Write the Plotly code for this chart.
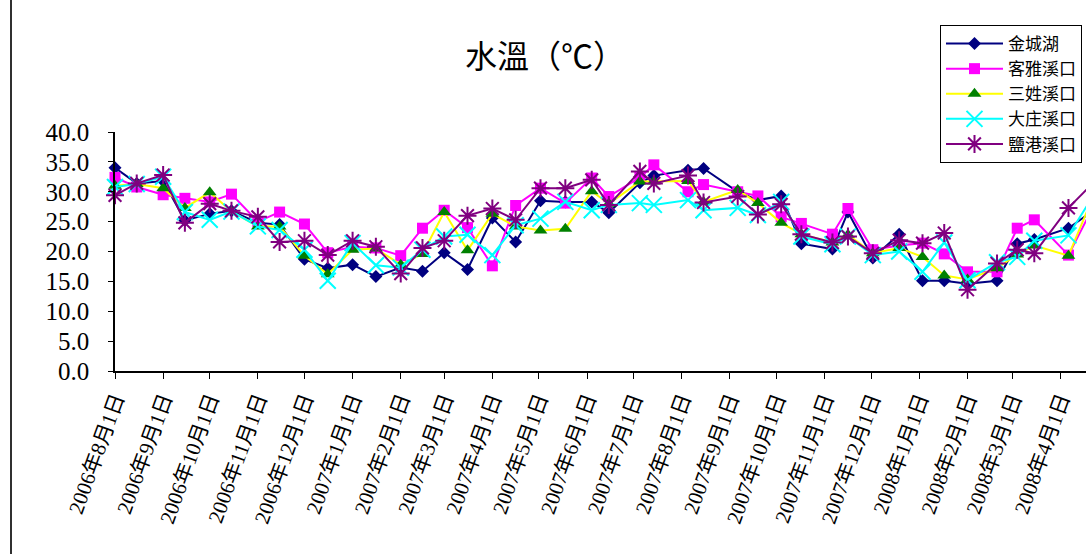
import plotly.graph_objects as go

dates = ["2006-08-01", "2006-08-15", "2006-09-01", "2006-09-15", "2006-10-01", "2006-10-15",
         "2006-11-01", "2006-11-15", "2006-12-01", "2006-12-16", "2007-01-01", "2007-01-16",
         "2007-02-01", "2007-02-15", "2007-03-01", "2007-03-16", "2007-04-01", "2007-04-16",
         "2007-05-02", "2007-05-18", "2007-06-04", "2007-06-15", "2007-07-05", "2007-07-14",
         "2007-08-05", "2007-08-15", "2007-09-06", "2007-09-19", "2007-10-04", "2007-10-17",
         "2007-11-06", "2007-11-16", "2007-12-02", "2007-12-19", "2008-01-03", "2008-01-17",
         "2008-02-01", "2008-02-20", "2008-03-04", "2008-03-15", "2008-04-06", "2008-04-20"]

jinchenghu = [34.0, 31.4, 31.8, 25.2, 26.3, 26.8, 24.8, 24.5, 18.7, 17.2, 17.8, 15.8,
              17.3, 16.7, 19.8, 17.0, 25.6, 21.6, 28.5, 28.3, 28.3, 26.5, 31.5, 32.7,
              33.6, 33.9, 30.0, 28.6, 29.3, 21.3, 20.4, 26.6, 18.9, 22.9, 15.1, 15.1,
              14.6, 15.1, 21.3, 22.0, 23.9, 26.5]
keya = [32.4, 30.8, 29.5, 28.9, 28.3, 29.6, 25.0, 26.6, 24.6, 19.8, 20.8, 20.6,
        19.3, 23.9, 26.9, 24.0, 17.6, 27.7, 30.6, 28.1, 32.3, 29.2, 32.4, 34.5,
        30.0, 31.2, 30.0, 29.3, 25.8, 24.7, 22.9, 27.2, 20.3, 21.0, 21.4, 19.6,
        16.6, 16.6, 23.9, 25.3, 19.4, 26.5]
sanxing = [31.0, 31.3, 30.6, 27.3, 29.9, 26.7, 24.2, 24.2, 19.3, 16.2, 20.3, 20.5,
           17.8, 19.6, 26.6, 20.2, 26.3, 24.2, 23.5, 23.8, 30.1, 28.0, 31.7, 31.7,
           31.8, 28.3, 30.3, 28.1, 24.8, 22.9, 21.5, 22.8, 19.7, 20.6, 19.1, 16.0,
           15.3, 17.2, 19.5, 21.0, 19.3, 28.0]
dazhuang = [30.8, 31.3, 32.5, 26.6, 25.3, 26.7, 24.2, 23.6, 20.3, 15.1, 21.4, 17.7,
            17.3, 20.3, 22.5, 22.8, 19.4, 24.4, 25.5, 28.3, 26.9, 27.8, 28.1, 27.8,
            28.6, 26.9, 27.3, 26.1, 28.3, 22.5, 21.2, 22.5, 19.4, 20.0, 16.6, 21.5,
            15.2, 18.2, 19.1, 21.8, 22.7, 28.5]
yangang = [29.4, 31.4, 32.8, 24.8, 28.0, 26.8, 25.8, 21.6, 21.8, 19.4, 21.8, 20.8,
           16.3, 20.6, 21.8, 26.0, 27.2, 25.3, 30.6, 30.6, 32.0, 27.8, 33.4, 31.4,
           32.7, 28.2, 29.2, 26.2, 27.9, 22.9, 21.5, 22.5, 19.7, 21.9, 21.4, 23.1,
           13.6, 18.0, 20.3, 19.7, 27.3, 31.0]

names = ["金城湖", "客雅溪口", "三姓溪口", "大庄溪口", "鹽港溪口"]
title_text = "水溫（℃）"

SERIF = "Liberation Serif, Noto Sans CJK TC, serif"
CJK = "Noto Sans CJK TC, sans-serif"

fig = go.Figure()
fig.add_trace(go.Scatter(x=dates, y=jinchenghu, name=names[0], mode="lines+markers",
                         line=dict(color="#000080", width=2),
                         marker=dict(symbol="diamond", size=10, color="#000080"),
                         cliponaxis=False))
fig.add_trace(go.Scatter(x=dates, y=keya, name=names[1], mode="lines+markers",
                         line=dict(color="#FF00FF", width=2),
                         marker=dict(symbol="square", size=11, color="#FF00FF"),
                         cliponaxis=False))
fig.add_trace(go.Scatter(x=dates, y=sanxing, name=names[2], mode="lines+markers",
                         line=dict(color="#FFFF00", width=2),
                         marker=dict(symbol="triangle-up", size=12, color="#008000"),
                         cliponaxis=False))
fig.add_trace(go.Scatter(x=dates, y=dazhuang, name=names[3], mode="lines+markers",
                         line=dict(color="#00FFFF", width=2),
                         marker=dict(symbol="x-thin-open", size=16, color="#00FFFF",
                                     line=dict(color="#00FFFF", width=2)),
                         cliponaxis=False))
fig.add_trace(go.Scatter(x=dates, y=yangang, name=names[4], mode="lines+markers",
                         line=dict(color="#800080", width=2),
                         marker=dict(symbol="asterisk-open", size=15, color="#800080",
                                     line=dict(color="#800080", width=2)),
                         cliponaxis=False))

L, T, B = 115, 132, 183
W, H = 1086, 554
pw, ph = W - L, H - T - B

fig.update_layout(
    width=W, height=H,
    margin=dict(l=L, r=0, t=T, b=B),
    paper_bgcolor="white", plot_bgcolor="white",
    title=dict(text=title_text, x=545 / W, xanchor="center", y=1 - 57 / H, yanchor="middle",
               yref="container", xref="container",
               font=dict(family=CJK, size=32, color="black")),
    showlegend=True,
    legend=dict(x=(940 - L) / pw, y=1 + (T - 25) / ph, xanchor="left", yanchor="top",
                bordercolor="black", borderwidth=1, bgcolor="white",
                font=dict(family=CJK, size=17, color="black"),
                itemwidth=57, tracegroupgap=0),
    xaxis=dict(type="date", range=["2006-08-01", "2008-04-17 07:00"],
               tick0="2006-08-01", dtick="M1", tickformat="%Y年%-m月%-d日",
               tickangle=-70, ticks="outside", ticklen=6, tickcolor="black",
               showline=True, linecolor="black", linewidth=1.5, showgrid=False,
               zeroline=False, tickfont=dict(family=SERIF, size=21, color="black")),
    yaxis=dict(range=[0, 40], dtick=5, tick0=0, tickformat=".1f",
               ticks="outside", ticklen=5, tickcolor="black",
               showline=True, linecolor="black", linewidth=1.5, showgrid=False,
               zeroline=False, ticklabelstandoff=14,
               tickfont=dict(family=SERIF, size=25, color="black")),
    shapes=[dict(type="line", xref="paper", yref="paper",
                 x0=(11 - L) / pw, x1=(11 - L) / pw, y0=-(H - T - ph) / ph - 0.01, y1=1 + T / ph + 0.01,
                 line=dict(color="#303030", width=2))],
)

fig.write_html("out.html")
